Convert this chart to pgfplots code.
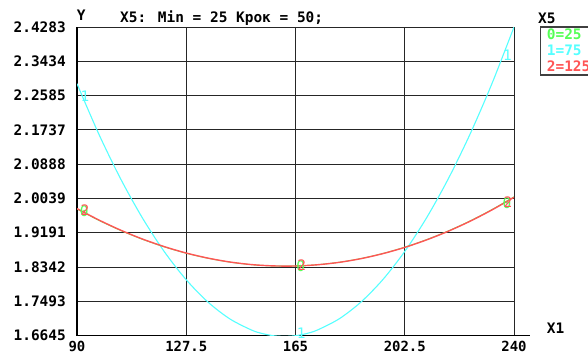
\documentclass[border=0pt]{standalone}
\usepackage{pgfplots}
\pgfplotsset{compat=1.18}
\usepackage{fontspec}
\newfontfamily\vga{DejaVu Sans Mono}
\definecolor{lgreen}{HTML}{55FF55}
\definecolor{lcyan}{HTML}{55FFFF}
\definecolor{lred}{HTML}{FF5555}
\newcommand\vgafont{\vga\bfseries\fontsize{14.5}{16}\selectfont}
\newcommand\vgaxfont{\vga\bfseries\fontsize{14}{16}\selectfont}
\newcommand\vgamark{\vga\fontsize{14.5}{16}\selectfont}
\begin{document}
\begin{tikzpicture}
\useasboundingbox (0,0) rectangle (588bp,-353bp);
\begin{axis}[
  at={(77bp,-335.7bp)}, anchor=south west,
  scale only axis, width=437bp, height=308.7bp,
  xmin=90, xmax=240, ymin=1.66449, ymax=2.42831,
  axis x line*=bottom, axis y line*=left,
  x axis line style={-, black, line width=1.5bp, shorten >=-16bp},
  y axis line style={-, black, line width=2bp},
  xtick={90,127.5,165,202.5,240},
  xticklabels={90,127.5,165,202.5,240},
  ytick={1.6645,1.7493,1.8342,1.9191,2.0039,2.0888,2.1737,2.2585,2.3434,2.4283},
  yticklabels={1.6645,1.7493,1.8342,1.9191,2.0039,2.0888,2.1737,2.2585,2.3434,2.4283},
  major tick length=0pt,
  grid=major,
  grid style={black!85, line width=0.9bp},
  ticklabel style={font=\vgafont, inner sep=0pt},
  xticklabel style={anchor=north, yshift=-5.5bp, font=\vgaxfont},
  yticklabel style={anchor=east, xshift=-11bp},
]
% X5 = 75
\addplot[lcyan, line width=1.1bp, smooth] coordinates {
(90,2.2880) (97.5,2.1632) (105,2.0523) (112.5,1.9553) (120,1.8721) (127.5,1.8028)
(135,1.7474) (142.5,1.7059) (150,1.6782) (153.75,1.6696) (157.5,1.6644) (161.25,1.6627)
(165,1.6645) (168.75,1.6697) (172.5,1.6785) (180,1.7063) (187.5,1.7480) (195,1.8035)
(202.5,1.8730) (210,1.9563) (217.5,2.0535) (225,2.1646) (232.5,2.2895) (240,2.4283)};
% X5 = 25
\addplot[lgreen, line width=0.9bp, smooth] coordinates {
(90,1.9780) (97.5,1.9499) (105,1.9248) (112.5,1.9029) (120,1.8842) (127.5,1.8685)
(135,1.8560) (142.5,1.8465) (150,1.8402) (157.5,1.8371) (165,1.8370) (172.5,1.8401)
(180,1.8462) (187.5,1.8555) (195,1.8680) (202.5,1.8835) (210,1.9022) (217.5,1.9239)
(225,1.9488) (232.5,1.9769) (240,2.0080)};
% X5 = 125
\addplot[lred, line width=1.4bp, smooth] coordinates {
(90,1.9790) (97.5,1.9508) (105,1.9256) (112.5,1.9036) (120,1.8848) (127.5,1.8690)
(135,1.8564) (142.5,1.8468) (150,1.8404) (157.5,1.8372) (165,1.8370) (172.5,1.8400)
(180,1.8460) (187.5,1.8552) (195,1.8676) (202.5,1.8830) (210,1.9016) (217.5,1.9232)
(225,1.9480) (232.5,1.9760) (240,2.0070)};
% point labels
\addplot[only marks, mark=text, text mark={1}, text mark as node=true,
  text mark style={font=\vgamark, inner sep=0pt, anchor=center}, color=lcyan]
  coordinates {(92.75,2.2559) (167,1.6695) (237.8,2.3573)};
\addplot[only marks, mark=text, text mark={0}, text mark as node=true,
  text mark style={font=\vgamark, inner sep=0pt, anchor=center}, color=lgreen]
  coordinates {(92.45,1.9723) (166.8,1.8375) (237.6,1.9929)};
\addplot[only marks, mark=text, text mark={2}, text mark as node=true,
  text mark style={font=\vgamark, inner sep=0pt, anchor=center}, color=lred]
  coordinates {(92.75,1.9743) (167.1,1.8395) (237.9,1.9949)};
\end{axis}
\node[anchor=base west, inner sep=0pt, font=\vgafont] at (76.7bp,-20bp) {Y};
\node[anchor=base west, inner sep=0pt, font=\vgafont] at (120bp,-22.7bp) {X5: Min = 25 Крок = 50;};
\node[anchor=base west, inner sep=0pt, font=\vgafont] at (538bp,-23bp) {X5};
\node[anchor=base west, inner sep=0pt, font=\vgafont] at (546.7bp,-333.3bp) {X1};
\draw[black!75, line width=1.5bp] (540.7bp,-27bp) rectangle (600bp,-75bp);
\node[anchor=base west, inner sep=0pt, font=\vgafont, text=lgreen] at (546.7bp,-39.5bp) {0=25};
\node[anchor=base west, inner sep=0pt, font=\vgafont, text=lcyan] at (546.7bp,-55.5bp) {1=75};
\node[anchor=base west, inner sep=0pt, font=\vgafont, text=lred] at (546.7bp,-71.5bp) {2=125};
\end{tikzpicture}
\end{document}
